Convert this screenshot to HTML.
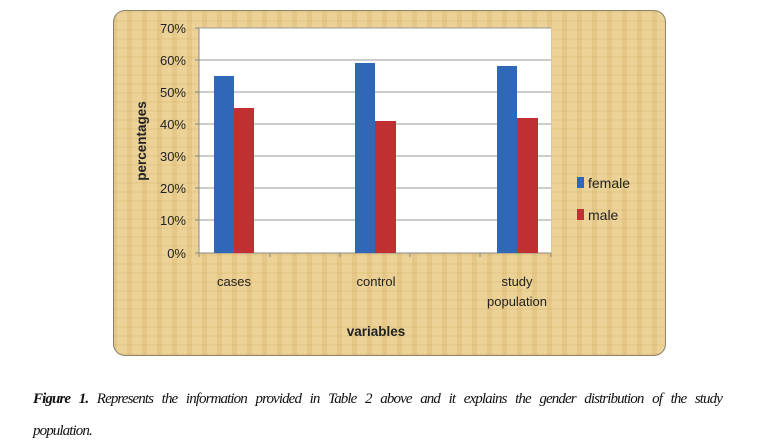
<!DOCTYPE html>
<html><head><style>
body{margin:0;width:761px;height:448px;background:#fff;position:relative;overflow:hidden;font-family:"Liberation Sans",sans-serif}
.box{position:absolute;left:113px;top:10px;width:551px;height:344px;border:1.5px solid #8a8070;border-radius:12px;background:
repeating-linear-gradient(90deg,rgba(200,160,80,.15) 0 3px,rgba(255,240,200,.1) 3px 13px,rgba(190,150,70,.12) 13px 15px),
repeating-linear-gradient(0deg,rgba(210,170,90,.12) 0 2px,rgba(255,240,200,.08) 2px 9px),#e8cc8c}
.cap{position:absolute;left:33px;width:689px;font-family:"Liberation Serif",serif;font-style:italic;font-size:15px;color:#111;text-align:justify;text-align-last:justify;letter-spacing:-0.9px;word-spacing:-1px}
</style></head><body>
<div class="box"></div>
<svg style="position:absolute;left:0;top:0" width="761" height="448">
<rect x="199" y="28" width="352" height="225" fill="#fff"/>
<g stroke="#999" stroke-width="1">
<line x1="199" x2="551" y1="28" y2="28"/><line x1="199" x2="551" y1="60" y2="60"/><line x1="199" x2="551" y1="92" y2="92"/><line x1="199" x2="551" y1="124" y2="124"/><line x1="199" x2="551" y1="156" y2="156"/><line x1="199" x2="551" y1="188" y2="188"/><line x1="199" x2="551" y1="220" y2="220"/>
</g>
<g stroke="#888" stroke-width="1">
<line x1="199" x2="199" y1="28" y2="257"/><line x1="195" x2="551" y1="253" y2="253"/>
<line x1="270" x2="270" y1="253" y2="257"/><line x1="340" x2="340" y1="253" y2="257"/><line x1="410" x2="410" y1="253" y2="257"/><line x1="480" x2="480" y1="253" y2="257"/><line x1="551" x2="551" y1="253" y2="257"/>
<line x1="195" x2="199" y1="28" y2="28"/><line x1="195" x2="199" y1="60" y2="60"/><line x1="195" x2="199" y1="92" y2="92"/><line x1="195" x2="199" y1="124" y2="124"/><line x1="195" x2="199" y1="156" y2="156"/><line x1="195" x2="199" y1="188" y2="188"/><line x1="195" x2="199" y1="220" y2="220"/>
</g>
<g fill="#3068b8"><rect x="214" y="76" width="20" height="177"/><rect x="355" y="63" width="20" height="190"/><rect x="497" y="66" width="20" height="187"/></g>
<g fill="#c03030"><rect x="234" y="108" width="20" height="145"/><rect x="375" y="121" width="21" height="132"/><rect x="517" y="118" width="21" height="135"/></g>
<rect x="577" y="177" width="7" height="11" fill="#3068b8"/><rect x="577" y="209" width="7" height="11" fill="#c03030"/>
<g font-size="13" fill="#222" text-anchor="end" font-family="Liberation Sans">
<text x="186" y="33">70%</text><text x="186" y="65">60%</text><text x="186" y="97">50%</text><text x="186" y="129">40%</text><text x="186" y="161">30%</text><text x="186" y="193">20%</text><text x="186" y="225">10%</text><text x="186" y="258">0%</text>
</g>
<g font-size="13" fill="#222" text-anchor="middle">
<text x="234" y="286">cases</text><text x="376" y="286">control</text><text x="517" y="286">study</text><text x="517" y="306">population</text>
<text x="376" y="336" font-weight="bold" font-size="13.5">variables</text>
</g>
<text transform="translate(146,141) rotate(-90)" text-anchor="middle" font-size="13.5" font-weight="bold" fill="#222">percentages</text>
<text x="588" y="188" font-size="14" fill="#222">female</text>
<text x="588" y="220" font-size="14" fill="#222">male</text>
</svg>
<div class="cap" style="top:391px"><b>Figure 1.</b> Represents the information provided in Table 2 above and it explains the gender distribution of the study</div>
<div class="cap" style="top:423px;text-align-last:left">population.</div>
</body></html>
